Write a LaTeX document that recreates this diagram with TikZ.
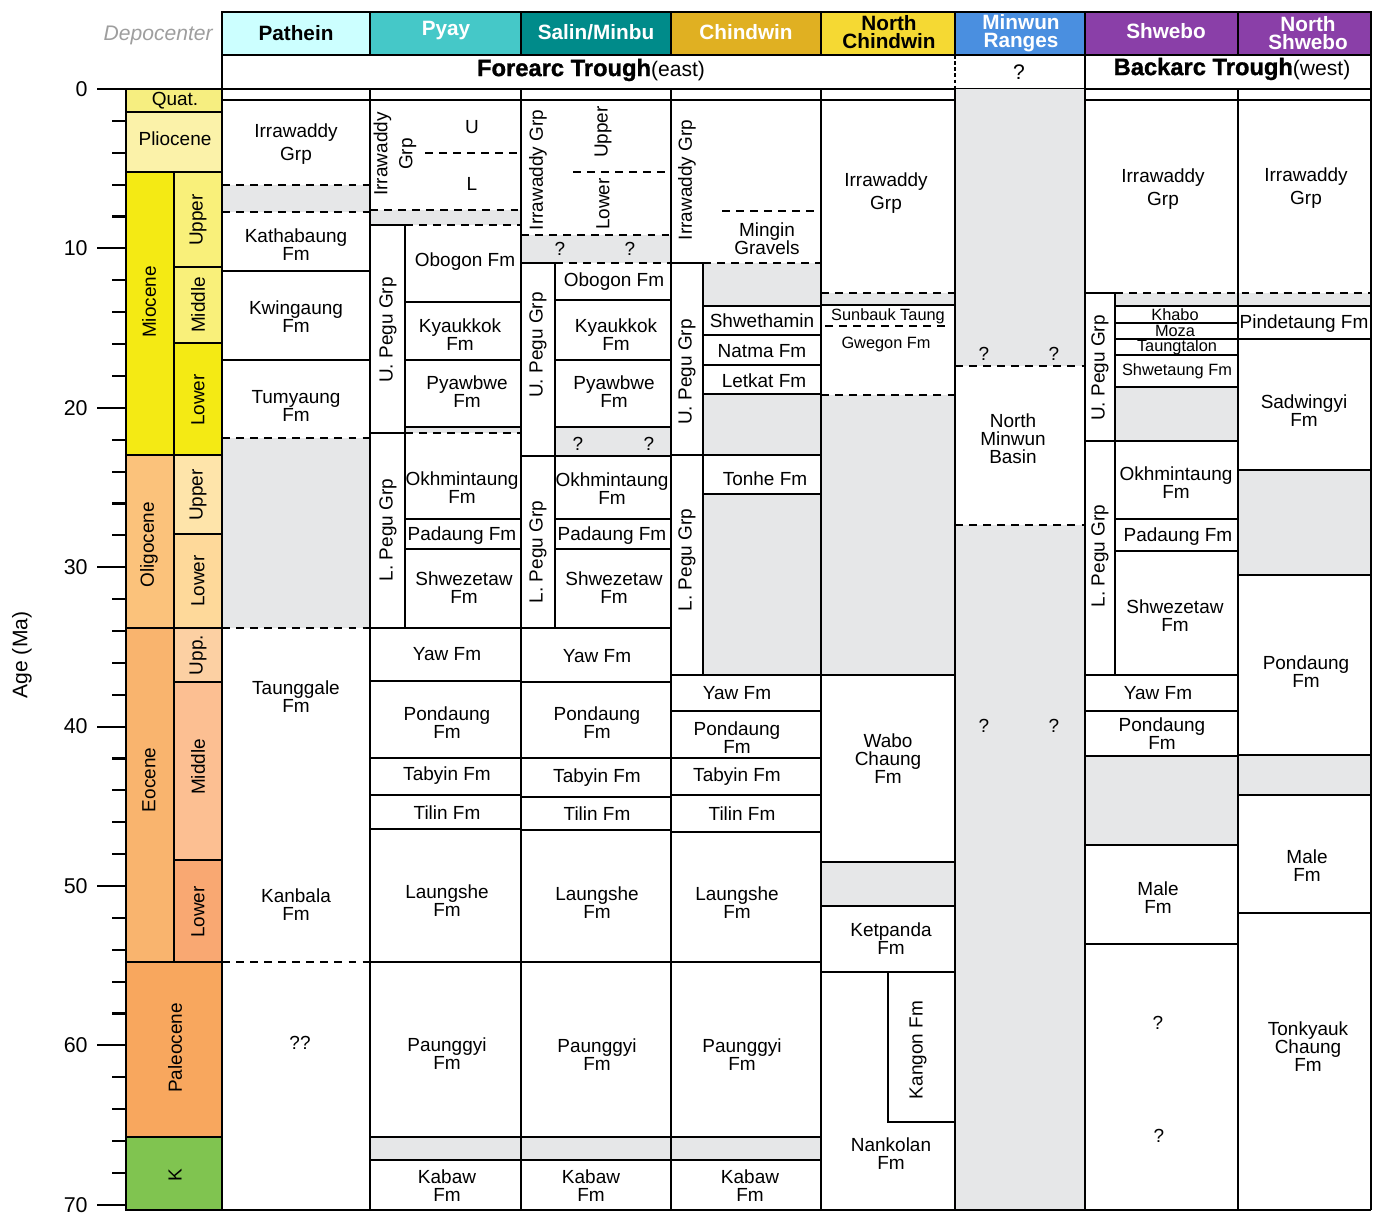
\documentclass[tikz,border=0pt]{standalone}
\usepackage{fontspec}
\setmainfont{Liberation Sans}
\newfontfamily\heavyfont[FakeBold=1.3]{Liberation Sans Bold}

\definecolor{gapgray}{HTML}{E6E7E8}
\definecolor{cPathein}{HTML}{CCFFFF}
\definecolor{cPyay}{HTML}{45C8C8}
\definecolor{cSalin}{HTML}{008B8A}
\definecolor{cChindwin}{HTML}{E0B022}
\definecolor{cNChindwin}{HTML}{F5D933}
\definecolor{cMinwun}{HTML}{4A8FE0}
\definecolor{cShwebo}{HTML}{8A3FA8}
\definecolor{cQuat}{HTML}{F6EE80}
\definecolor{cPlio}{HTML}{FBF2A9}
\definecolor{cMio}{HTML}{F4EA14}
\definecolor{cMioU}{HTML}{F9F07A}
\definecolor{cOli}{HTML}{FBC27B}
\definecolor{cOliU}{HTML}{FEE4AA}
\definecolor{cOliL}{HTML}{FED99A}
\definecolor{cEoc}{HTML}{F9B46E}
\definecolor{cEocU}{HTML}{FCD0A3}
\definecolor{cEocM}{HTML}{FCBF92}
\definecolor{cEocL}{HTML}{F9A872}
\definecolor{cPal}{HTML}{F8A75E}
\definecolor{cK}{HTML}{80C450}

\begin{document}
\begin{tikzpicture}[x=0.02cm, y=-0.02cm,
    rule/.style={line width=1.2pt},
    brk/.style={line width=1.2pt, dash pattern=on 4.5pt off 3.5pt},
    gapfill/.style={fill=gapgray},
    fm/.style={font=\fontsize{10.8}{10.2}\selectfont, align=center, inner sep=0pt},
    smallfm/.style={font=\fontsize{9.3}{9}\selectfont, align=center, inner sep=0pt},
    hd/.style={font=\bfseries\fontsize{11.8}{10.6}\selectfont, align=center, inner sep=0pt},
    vert/.style={fm, rotate=90}]
    \useasboundingbox (0,0) rectangle (1376,1214);

    % Header row with the depocenters
    \node[anchor=east, inner sep=0pt, text=black!38, font=\itshape\fontsize{12}{12}\selectfont] (depo) at (213,35) {Depocenter};
    \draw[rule, fill=cPathein] (222,12) rectangle (370,55);
    \draw[rule, fill=cPyay] (370,12) rectangle (521,55);
    \draw[rule, fill=cSalin] (521,12) rectangle (671,55);
    \draw[rule, fill=cChindwin] (671,12) rectangle (821,55);
    \draw[rule, fill=cNChindwin] (821,12) rectangle (955,55);
    \draw[rule, fill=cMinwun] (955,12) rectangle (1085,55);
    \draw[rule, fill=cShwebo] (1085,12) rectangle (1238,55);
    \draw[rule, fill=cShwebo] (1238,12) rectangle (1371,55);
    \node[hd] (hPathein) at (296,33) {Pathein};
    \node[hd, text=white] (hPyay) at (446,31) {Pyay};
    \node[hd, text=white] (hSalin) at (596,32) {Salin/Minbu};
    \node[hd, text=white] (hChindwin) at (746,32) {Chindwin};
    \node[hd] (hNChindwin) at (889,32) {North\\Chindwin};
    \node[hd, text=white] (hMinwun) at (1021,33) {Minwun\\Ranges};
    \node[hd, text=white] (hShwebo) at (1166,31) {Shwebo};
    \node[hd, text=white] (hNShwebo) at (1308,33) {North\\Shwebo};

    % Trough row
    \draw[rule] (222,89) -- (222,55) -- (1371,55) -- (1371,89);
    \draw[rule] (1085,55) -- (1085,89);
    \draw[line width=0.8pt, dash pattern=on 2pt off 1.5pt] (955,55) -- (955,89);
    \node[inner sep=0pt] (forearc) at (591,70) {\heavyfont\fontsize{13.5}{13}\selectfont Forearc Trough\normalfont\fontsize{12}{12}\selectfont(east)};
    \node[inner sep=0pt, font=\fontsize{12}{12}\selectfont] (minq) at (1019,72) {?};
    \node[inner sep=0pt] (backarc) at (1232,69) {\heavyfont\fontsize{13.5}{13}\selectfont Backarc Trough\normalfont\fontsize{12}{12}\selectfont(west)};

    % Time scale
    \draw[rule, fill=cQuat] (126,89) rectangle (222,112);
    \draw[rule, fill=cPlio] (126,112) rectangle (222,172);
    \draw[rule, fill=cMio] (126,172) rectangle (174,455);
    \draw[rule, fill=cMioU] (174,172) rectangle (222,267);
    \draw[rule, fill=cMioU] (174,267) rectangle (222,343);
    \draw[rule, fill=cMio] (174,343) rectangle (222,455);
    \draw[rule, fill=cOli] (126,455) rectangle (174,628);
    \draw[rule, fill=cOliU] (174,455) rectangle (222,534);
    \draw[rule, fill=cOliL] (174,534) rectangle (222,628);
    \draw[rule, fill=cEoc] (126,628) rectangle (174,962);
    \draw[rule, fill=cEocU] (174,628) rectangle (222,682);
    \draw[rule, fill=cEocM] (174,682) rectangle (222,860);
    \draw[rule, fill=cEocL] (174,860) rectangle (222,962);
    \draw[rule, fill=cPal] (126,962) rectangle (222,1137);
    \draw[rule, fill=cK] (126,1137) rectangle (222,1210);
    \node[fm] (quat) at (175,101) {Quat.};
    \node[fm] (plio) at (175,139) {Pliocene};
    \node[vert] (mio) at (149,302) {Miocene};
    \node[vert] (mioU) at (198,220) {Upper};
    \node[vert] (mioM) at (198,305) {Middle};
    \node[vert] (mioL) at (198,400) {Lower};
    \node[vert] (oli) at (149,545) {Oligocene};
    \node[vert] (oliU) at (198,495) {Upper};
    \node[vert] (oliL) at (198,581) {Lower};
    \node[vert] (eoc) at (149,780) {Eocene};
    \node[vert] (eocU) at (198,655) {Upp.};
    \node[vert] (eocM) at (198,767) {Middle};
    \node[vert] (eocL) at (198,912) {Lower};
    \node[vert] (pal) at (175,1048) {Paleocene};
    \node[vert] (kre) at (175,1175) {K};

    % Age axis
    \foreach \a in {2,4,...,68}
        \draw[rule] (112,{89+15.94*\a}) -- (126,{89+15.94*\a});
    \foreach \a in {0,10,...,70} {
        \draw[rule] (97,{89+15.94*\a}) -- (126,{89+15.94*\a});
        \node[anchor=east, inner sep=0pt, font=\fontsize{12.2}{12}\selectfont] (age\a) at (88,{89+15.94*\a}) {\a};
    }
    \node[rotate=90, inner sep=0pt, font=\fontsize{12}{12}\selectfont] (agelabel) at (22,655) {Age (Ma)};
    \draw[rule] (126,89) -- (1371,89);

    % Pathein
    \fill[gapfill] (222,185) rectangle (370,212);
    \fill[gapfill] (222,438) rectangle (370,628);
    \foreach \y in {100,271,360} \draw[rule] (222,\y) -- (370,\y);
    \foreach \y in {185,212,438,628,962} \draw[brk] (222,\y) -- (370,\y);
    \node[fm] (patIrr) at (296,144) {Irrawaddy\\[3pt]Grp};
    \node[fm] (patKat) at (296,245) {Kathabaung\\Fm};
    \node[fm] (patKwi) at (296,317) {Kwingaung\\Fm};
    \node[fm] (patTum) at (296,406) {Tumyaung\\Fm};
    \node[fm] (patTau) at (296,697) {Taunggale\\Fm};
    \node[fm] (patKan) at (296,905) {Kanbala\\Fm};
    \node[fm] (patQ) at (300,1043) {??};

    % Pyay
    \fill[gapfill] (370,210) rectangle (521,225);
    \fill[gapfill] (405,427) rectangle (521,433);
    \fill[gapfill] (370,1137) rectangle (521,1160);
    \draw[rule] (370,100) -- (521,100);
    \draw[brk] (425,153) -- (521,153);
    \draw[brk] (370,210) -- (521,210);
    \draw[brk] (405,225) -- (521,225);
    \draw[brk] (405,433) -- (521,433);
    \draw[rule] (370,225) -- (405,225) -- (405,628);
    \draw[rule] (370,433) -- (405,433);
    \foreach \y in {302,360,427,519,549} \draw[rule] (405,\y) -- (521,\y);
    \foreach \y in {628,681,758,795,829,962,1137,1160} \draw[rule] (370,\y) -- (521,\y);
    \node[vert] (pyIrr) at (395,154) {Irrawaddy\\[4pt]Grp};
    \node[fm] (pyU) at (472,127) {U};
    \node[fm] (pyL) at (472,184) {L};
    \node[vert] (pyUP) at (388,330) {U. Pegu Grp};
    \node[vert] (pyLP) at (388,530) {L. Pegu Grp};
    \node[fm] (pyObo) at (465,262) {Obogon Fm};
    \node[fm] (pyKya) at (460,335) {Kyaukkok\\Fm};
    \node[fm] (pyPya) at (467,392) {Pyawbwe\\Fm};
    \node[fm] (pyOkh) at (462,488) {Okhmintaung\\Fm};
    \node[fm] (pyPad) at (462,536) {Padaung Fm};
    \node[fm] (pyShw) at (464,588) {Shwezetaw\\Fm};
    \node[fm] (pyYaw) at (447,654) {Yaw Fm};
    \node[fm] (pyPon) at (447,723) {Pondaung\\Fm};
    \node[fm] (pyTab) at (447,776) {Tabyin Fm};
    \node[fm] (pyTil) at (447,813) {Tilin Fm};
    \node[fm] (pyLau) at (447,901) {Laungshe\\Fm};
    \node[fm] (pyPau) at (447,1054) {Paunggyi\\Fm};
    \node[fm] (pyKab) at (447,1186) {Kabaw\\Fm};

    % Salin/Minbu
    \fill[gapfill] (521,235) rectangle (671,263);
    \fill[gapfill] (555,427) rectangle (671,456);
    \fill[gapfill] (521,1137) rectangle (671,1160);
    \draw[rule] (521,100) -- (671,100);
    \draw[brk] (573,172) -- (671,172);
    \draw[brk] (521,235) -- (671,235);
    \draw[brk] (555,263) -- (671,263);
    \draw[rule] (521,263) -- (555,263) -- (555,628);
    \foreach \y in {300,360,427,519,549} \draw[rule] (555,\y) -- (671,\y);
    \foreach \y in {456,628,682,758,797,830,962,1137,1160} \draw[rule] (521,\y) -- (671,\y);
    \node[vert] (saIrr) at (538,170) {Irrawaddy Grp};
    \node[vert] (saUp) at (603,132) {Upper};
    \node[vert] (saLo) at (603,204) {Lower};
    \node[fm] (saQa) at (560,249) {?};
    \node[fm] (saQb) at (630,249) {?};
    \node[fm] (saQc) at (578,444) {?};
    \node[fm] (saQd) at (649,444) {?};
    \node[vert] (saUP) at (538,345) {U. Pegu Grp};
    \node[vert] (saLP) at (538,552) {L. Pegu Grp};
    \node[fm] (saObo) at (614,282) {Obogon Fm};
    \node[fm] (saKya) at (616,335) {Kyaukkok\\Fm};
    \node[fm] (saPya) at (614,392) {Pyawbwe\\Fm};
    \node[fm] (saOkh) at (612,489) {Okhmintaung\\Fm};
    \node[fm] (saPad) at (612,536) {Padaung Fm};
    \node[fm] (saShw) at (614,588) {Shwezetaw\\Fm};
    \node[fm] (saYaw) at (597,656) {Yaw Fm};
    \node[fm] (saPon) at (597,723) {Pondaung\\Fm};
    \node[fm] (saTab) at (597,778) {Tabyin Fm};
    \node[fm] (saTil) at (597,814) {Tilin Fm};
    \node[fm] (saLau) at (597,903) {Laungshe\\Fm};
    \node[fm] (saPau) at (597,1055) {Paunggyi\\Fm};
    \node[fm] (saKab) at (591,1186) {Kabaw\\Fm};

    % Chindwin
    \fill[gapfill] (703,263) rectangle (821,306);
    \fill[gapfill] (703,394) rectangle (821,455);
    \fill[gapfill] (703,494) rectangle (821,675);
    \fill[gapfill] (671,1137) rectangle (821,1160);
    \draw[rule] (671,100) -- (821,100);
    \draw[brk] (722,211) -- (821,211);
    \draw[brk] (703,263) -- (821,263);
    \draw[rule] (671,263) -- (703,263) -- (703,675);
    \foreach \y in {306,335,365,394,494} \draw[rule] (703,\y) -- (821,\y);
    \foreach \y in {455,675,711,758,795,832,962,1137,1160} \draw[rule] (671,\y) -- (821,\y);
    \node[vert] (chIrr) at (687,180) {Irrawaddy Grp};
    \node[fm] (chMin) at (767,239) {Mingin\\Gravels};
    \node[vert] (chUP) at (687,372) {U. Pegu Grp};
    \node[vert] (chLP) at (687,560) {L. Pegu Grp};
    \node[fm] (chShw) at (762,321) {Shwethamin};
    \node[fm] (chNat) at (762,351) {Natma Fm};
    \node[fm] (chLet) at (764,381) {Letkat Fm};
    \node[fm] (chTon) at (765,479) {Tonhe Fm};
    \node[fm] (chYaw) at (737,693) {Yaw Fm};
    \node[fm] (chPon) at (737,738) {Pondaung\\Fm};
    \node[fm] (chTab) at (737,777) {Tabyin Fm};
    \node[fm] (chTil) at (742,814) {Tilin Fm};
    \node[fm] (chLau) at (737,903) {Laungshe\\Fm};
    \node[fm] (chPau) at (742,1055) {Paunggyi\\Fm};
    \node[fm] (chKab) at (750,1186) {Kabaw\\Fm};

    % North Chindwin
    \fill[gapfill] (821,293) rectangle (955,305);
    \fill[gapfill] (821,395) rectangle (955,675);
    \fill[gapfill] (821,862) rectangle (955,906);
    \draw[rule] (821,100) -- (955,100);
    \foreach \y in {293,395} \draw[brk] (821,\y) -- (955,\y);
    \draw[brk] (825,326) -- (950,326);
    \foreach \y in {305,675,862,906,972} \draw[rule] (821,\y) -- (955,\y);
    \draw[rule] (888,972) rectangle (955,1122);
    \node[fm] (ncIrr) at (886,193) {Irrawaddy\\[3pt]Grp};
    \node[smallfm] (ncSun) at (888,316) {Sunbauk Taung};
    \node[smallfm] (ncGwe) at (886,344) {Gwegon Fm};
    \node[fm] (ncWab) at (888,759) {Wabo\\Chaung\\Fm};
    \node[fm] (ncKet) at (891,939) {Ketpanda\\Fm};
    \node[vert] (ncKan) at (918,1050) {Kangon Fm};
    \node[fm] (ncNan) at (891,1154) {Nankolan\\Fm};

    % Minwun Ranges
    \fill[gapfill] (955,89) rectangle (1085,366);
    \fill[gapfill] (955,525) rectangle (1085,1210);
    \foreach \y in {366,525} \draw[brk] (955,\y) -- (1085,\y);
    \node[fm] (mwQa) at (984,354) {?};
    \node[fm] (mwQb) at (1054,354) {?};
    \node[fm] (mwBas) at (1013,439) {North\\Minwun\\Basin};
    \node[fm] (mwQc) at (984,726) {?};
    \node[fm] (mwQd) at (1054,726) {?};

    % Shwebo
    \fill[gapfill] (1115,293) rectangle (1371,306);
    \fill[gapfill] (1115,387) rectangle (1238,441);
    \fill[gapfill] (1085,756) rectangle (1238,845);
    \draw[rule] (1085,100) -- (1371,100);
    \draw[brk] (1115,293) -- (1371,293);
    \draw[rule] (1085,293) -- (1115,293) -- (1115,675);
    \foreach \y in {306,323,339,355,387,519,551} \draw[rule] (1115,\y) -- (1238,\y);
    \foreach \y in {441,675,711,756,845,944} \draw[rule] (1085,\y) -- (1238,\y);
    \node[fm] (swIrr) at (1163,189) {Irrawaddy\\[3pt]Grp};
    \node[vert] (swUP) at (1100,368) {U. Pegu Grp};
    \node[vert] (swLP) at (1100,556) {L. Pegu Grp};
    \node[smallfm] (swKha) at (1175,315) {Khabo};
    \node[smallfm] (swMoz) at (1175,331) {Moza};
    \node[smallfm] (swTau) at (1177,347) {Taungtalon};
    \node[smallfm] (swShw) at (1177,371) {Shwetaung Fm};
    \node[fm] (swOkh) at (1176,483) {Okhmintaung\\Fm};
    \node[fm] (swPad) at (1178,537) {Padaung Fm};
    \node[fm] (swShz) at (1175,616) {Shwezetaw\\Fm};
    \node[fm] (swYaw) at (1158,693) {Yaw Fm};
    \node[fm] (swPon) at (1162,734) {Pondaung\\Fm};
    \node[fm] (swMal) at (1158,898) {Male\\Fm};
    \node[fm] (swQa) at (1158,1023) {?};
    \node[fm] (swQb) at (1159,1136) {?};

    % North Shwebo
    \fill[gapfill] (1238,470) rectangle (1371,575);
    \fill[gapfill] (1238,755) rectangle (1371,795);
    \foreach \y in {306,339,470,575,755,795,913} \draw[rule] (1238,\y) -- (1371,\y);
    \node[fm] (nsIrr) at (1306,188) {Irrawaddy\\[3pt]Grp};
    \node[fm] (nsPin) at (1304,324) {Pindetaung Fm};
    \node[fm] (nsSad) at (1304,411) {Sadwingyi\\Fm};
    \node[fm] (nsPon) at (1306,672) {Pondaung\\Fm};
    \node[fm] (nsMal) at (1307,866) {Male\\Fm};
    \node[fm] (nsTon) at (1308,1047) {Tonkyauk\\Chaung\\Fm};

    % Column borders
    \foreach \x in {222,370,521,671,821,955,1085,1238,1371}
        \draw[rule] (\x,89) -- (\x,1210);
    \draw[rule] (126,1210) -- (1371,1210);
\end{tikzpicture}
\end{document}
